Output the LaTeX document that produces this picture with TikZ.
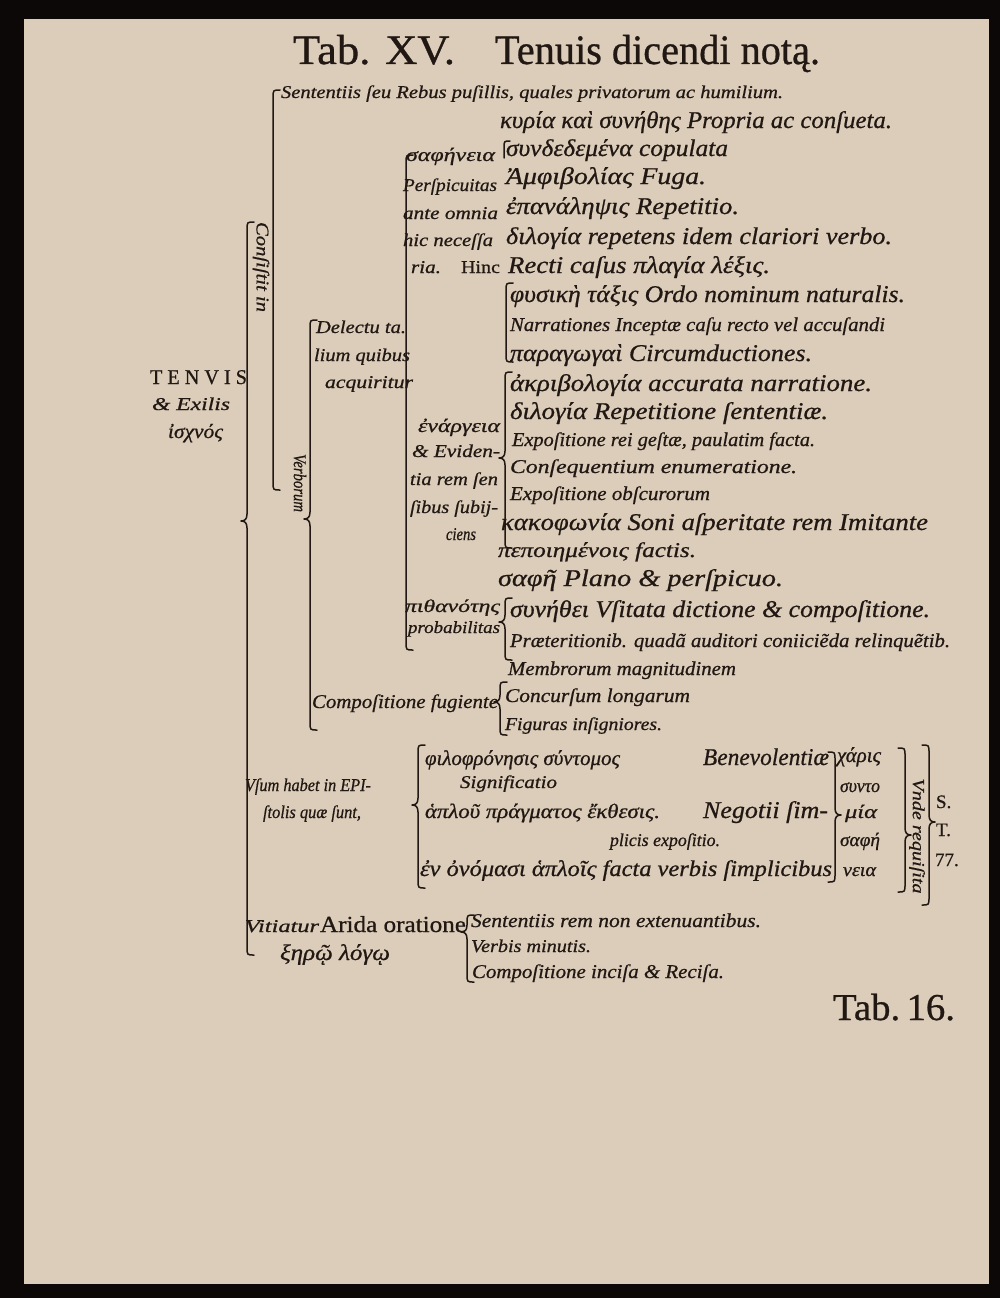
\documentclass[tikz,border=0pt]{standalone}
\usepackage{fontspec}
\setmainfont{Liberation Serif}[FakeBold=0.7]
\usepackage{graphicx}
\definecolor{ink}{RGB}{33,24,19}
\definecolor{paper}{RGB}{220,205,187}
\definecolor{scan}{RGB}{12,8,8}
\newcommand{\fw}[2]{\resizebox{#1pt}{\height}{#2}}
\tikzset{
  tx/.style={anchor=base west, inner sep=0pt, outer sep=0pt, text=ink},
  itx/.style={tx, font=\itshape\fontsize{#1}{#1}\selectfont},
  rmx/.style={tx, font=\fontsize{#1}{#1}\selectfont},
  rot/.style={rotate=-90, inner sep=0pt, text=ink, font=\itshape\fontsize{#1}{#1}\selectfont},
  brc/.style={draw=ink, line width=1.5pt, line cap=round, line join=round},
}
% left brace "{" with tip to the left
\newcommand{\lbr}[4]{\draw[brc] (#1+7,#2) .. controls (#1,#2) .. (#1,#2+8) -- (#1,#4-7) .. controls (#1,#4-2) and (#1-2,#4) .. (#1-6,#4) .. controls (#1-2,#4) and (#1,#4+2) .. (#1,#4+7) -- (#1,#3-8) .. controls (#1,#3) .. (#1+7,#3);}
% left bracket without tip
\newcommand{\lbrn}[3]{\draw[brc] (#1+7,#2) .. controls (#1,#2) .. (#1,#2+8) -- (#1,#3-8) .. controls (#1,#3) .. (#1+7,#3);}
% right brace "}" with tip to the right
\newcommand{\rbr}[4]{\draw[brc] (#1-7,#2) .. controls (#1,#2) .. (#1,#2+8) -- (#1,#4-7) .. controls (#1,#4-2) and (#1+2,#4) .. (#1+6,#4) .. controls (#1+2,#4) and (#1,#4+2) .. (#1,#4+7) -- (#1,#3-8) .. controls (#1,#3) .. (#1-7,#3);}
\begin{document}
\begin{tikzpicture}[x=1pt,y=-1pt]
\useasboundingbox (0,0) rectangle (1000,1298);
\fill[scan] (0,0) rectangle (1000,1298);
\fill[paper] (24,19) rectangle (989,1284);

% title
\node[rmx=42] (t1) at (293,64) {\fw{162}{Tab. XV.}};
\node[rmx=42] (t2) at (495,64) {\fw{325}{Tenuis dicendi notą.}};

% root
\node[rmx=21] (tenvis) at (150,384) {\fw{97}{T E N V I S}};
\node[itx=18] (exilis) at (152,410) {\fw{78}{\& Exilis}};
\node[itx=20] (ischnos) at (168,438) {\fw{55}{ἰσχνός}};

% rotated labels
\node[rot=18] (consist) at (261,267) {\fw{90}{Conſiſtit in}};
\node[rot=18] (verb) at (300,483) {\fw{58}{Verborum}};
\node[rot=17] (vnde) at (917,836) {\fw{115}{Vnde requiſita}};

% top row
\node[itx=18] (sent) at (281,98) {\fw{502}{Sententiis ſeu Rebus puſillis, quales privatorum ac humilium.}};

% sapheneia group
\node[itx=24] (kyria) at (500,128) {\fw{392}{κυρία καὶ συνήθης Propria ac conſueta.}};
\node[itx=24] (synd) at (506,156) {\fw{222}{συνδεδεμένα copulata}};
\node[itx=19] (saph1) at (406,161) {\fw{89}{σαφήνεια}};
\node[itx=24] (amph) at (506,184) {\fw{200}{Ἀμφιβολίας Fuga.}};
\node[itx=18] (persp) at (403,191) {\fw{94}{Perſpicuitas}};
\node[itx=24] (epan) at (506,214) {\fw{233}{ἐπανάληψις Repetitio.}};
\node[itx=18] (ante) at (403,219) {\fw{95}{ante omnia}};
\node[itx=24] (dilog) at (506,244) {\fw{386}{διλογία repetens idem clariori verbo.}};
\node[itx=18] (hic) at (403,246) {\fw{90}{hic neceſſa}};
\node[itx=18] (ria) at (411,273) {\fw{30}{ria.}};
\node[rmx=18] (hinc) at (461,273) {\fw{39}{Hinc}};
\node[itx=24] (recti) at (508,273) {\fw{262}{Recti caſus πλαγία λέξις.}};
\node[itx=24] (phys) at (510,302) {\fw{395}{φυσικὴ τάξις Ordo nominum naturalis.}};
\node[itx=19.5] (narr) at (510,331) {\fw{375}{Narrationes Inceptæ caſu recto vel accuſandi}};
\node[itx=24] (parag) at (510,361) {\fw{302}{παραγωγαὶ Circumductiones.}};

% delectu
\node[itx=18] (del1) at (316,333) {\fw{90}{Delectu ta.}};
\node[itx=18] (del2) at (314,361) {\fw{96}{lium quibus}};
\node[itx=18] (del3) at (325,388) {\fw{88}{acquiritur}};

% enargeia group
\node[itx=24] (akrib) at (510,391) {\fw{362}{ἀκριβολογία accurata narratione.}};
\node[itx=24] (dilog2) at (510,419) {\fw{318}{διλογία Repetitione ſententiæ.}};
\node[itx=19] (enar) at (418,432) {\fw{82}{ἐνάργεια}};
\node[itx=19.5] (expo1) at (512,446) {\fw{303}{Expoſitione rei geſtæ, paulatim facta.}};
\node[itx=18] (evid) at (412,457) {\fw{88}{\& Eviden-}};
\node[itx=19.5] (conseq) at (510,473) {\fw{287}{Conſequentium enumeratione.}};
\node[itx=18] (tiarem) at (410,485) {\fw{88}{tia rem ſen}};
\node[itx=19.5] (expo2) at (510,500) {\fw{200}{Expoſitione obſcurorum}};
\node[itx=18] (sibus) at (410,513) {\fw{88}{ſibus ſubij-}};
\node[itx=24] (kako) at (501,530) {\fw{427}{κακοφωνία Soni aſperitate rem Imitante}};
\node[itx=18] (ciens) at (446,540) {\fw{30}{ciens}};
\node[itx=21] (pepoi) at (498,557) {\fw{198}{πεποιημένοις factis.}};

% pithanotes group
\node[itx=24] (saph2) at (498,586) {\fw{285}{σαφῆ Plano \& perſpicuo.}};
\node[itx=18] (pith) at (405,612) {\fw{95}{πιθανότης}};
\node[itx=24] (syneth) at (510,617) {\fw{420}{συνήθει Vſitata dictione \& compoſitione.}};
\node[itx=17] (prob) at (408,633) {\fw{92}{probabilitas}};
\node[itx=19.5] (praet) at (510,647) {\fw{440}{Præteritionib. quadã auditori coniiciẽda relinquẽtib.}};

% compositione fugiente
\node[itx=19.5] (membr) at (508,675) {\fw{228}{Membrorum magnitudinem}};
\node[itx=19.5] (compf) at (312,708) {\fw{186}{Compoſitione fugiente}};
\node[itx=19.5] (concur) at (505,702) {\fw{185}{Concurſum longarum}};
\node[itx=18] (figur) at (505,730) {\fw{157}{Figuras inſigniores.}};

% epistolae
\node[itx=21] (phil) at (425,765) {\fw{195}{φιλοφρόνησις σύντομος}};
\node[itx=24] (benev) at (703,765) {\fw{126}{Benevolentiæ}};
\node[itx=21] (charis) at (837,762) {\fw{44}{χάρις}};
\node[itx=18] (signif) at (460,788) {\fw{97}{Significatio}};
\node[itx=19] (synto) at (840,792) {\fw{40}{συντο}};
\node[itx=18] (vsum) at (245,791) {\fw{126}{Vſum habet in EPI-}};
\node[itx=18] (stolis) at (263,818) {\fw{98}{ſtolis quæ ſunt,}};
\node[itx=20.5] (haplou) at (425,818) {\fw{235}{ἁπλοῦ πράγματος ἔκθεσις.}};
\node[itx=24] (negot) at (703,818) {\fw{125}{Negotii ſim-}};
\node[itx=19] (mia) at (845,818) {\fw{32}{μία}};
\node[itx=18] (plicis) at (610,846) {\fw{110}{plicis expoſitio.}};
\node[itx=19] (saphe) at (840,846) {\fw{40}{σαφή}};
\node[itx=22.5] (en) at (420,876) {\fw{412}{ἐν ὀνόμασι ἁπλοῖς facta verbis ſimplicibus}};
\node[itx=19] (neia) at (843,876) {\fw{33}{νεια}};
\node[rmx=19] (sS) at (936,808) {S.};
\node[rmx=19] (sT) at (936,836) {T.};
\node[rmx=19] (s77) at (935,866) {77.};

% vitiatur
\node[itx=18] (vitiat) at (245,932) {\fw{74}{Vitiatur}};
\node[rmx=23] (arida) at (320,932) {\fw{146}{Arida oratione}};
\node[itx=22.5] (xero) at (280,960) {\fw{110}{ξηρῷ λόγῳ}};
\node[itx=19.5] (sentrem) at (471,927) {\fw{290}{Sententiis rem non extenuantibus.}};
\node[itx=18] (verbis) at (471,952) {\fw{120}{Verbis minutis.}};
\node[itx=19.5] (compinc) at (472,978) {\fw{252}{Compoſitione inciſa \& Reciſa.}};

% footer
\node[rmx=38] (tab16) at (833,1020) {\fw{122}{Tab.\,16.}};

% braces
\lbr{247}{222}{955}{521}
\lbrn{273}{90}{490}
\lbr{310}{320}{730}{519}
\lbrn{406}{155}{650}
\draw[brc] (510,141) .. controls (504,141) .. (504,148) -- (504,158);
\lbrn{506}{283}{362}
\lbr{505}{372}{548}{458}
\lbr{505}{598}{660}{622}
\lbr{500}{682}{735}{702}
\lbr{418}{745}{888}{805}
\rbr{835}{752}{882}{815}
\rbr{905}{748}{892}{835}
\rbr{929}{745}{905}{822}
\lbr{467}{915}{982}{932}
\end{tikzpicture}
\end{document}
